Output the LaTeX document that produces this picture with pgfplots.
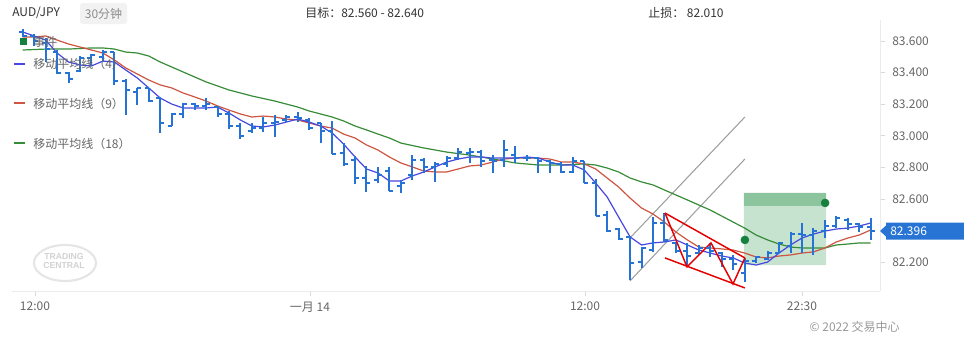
\documentclass[border=0pt]{standalone}
\usepackage{pgfplots}
\pgfplotsset{compat=1.18}
\usepackage{pgfplotstable}
\usepackage{fontspec}
\setmainfont{Noto Sans CJK SC}
\newfontfamily\wmfont{Liberation Sans}

\definecolor{barblue}{RGB}{38,115,214}
\definecolor{ma4}{RGB}{72,72,225}
\definecolor{ma9}{RGB}{205,85,65}
\definecolor{ma18}{RGB}{55,140,55}
\definecolor{boxlight}{RGB}{198,227,208}
\definecolor{boxdark}{RGB}{140,196,157}
\definecolor{dotgreen}{RGB}{22,128,62}
\definecolor{txtgray}{RGB}{102,102,102}
\definecolor{txtdark}{RGB}{51,51,51}
\definecolor{pricebox}{RGB}{40,116,212}

\pgfdeclareplotmark{otick}{\pgfpathmoveto{\pgfqpoint{-3pt}{0pt}}\pgfpathlineto{\pgfqpoint{0pt}{0pt}}\pgfusepathqstroke}
\pgfdeclareplotmark{ctick}{\pgfpathmoveto{\pgfqpoint{0pt}{0pt}}\pgfpathlineto{\pgfqpoint{3pt}{0pt}}\pgfusepathqstroke}

% x o h l c
\pgfplotstableread{
x o h l c
0 83.66 83.676 83.625 83.63
1 83.63 83.645 83.57 83.60
2 83.59 83.62 83.467 83.55
3 83.53 83.543 83.391 83.40
4 83.40 83.404 83.334 83.36
5 83.41 83.505 83.404 83.49
6 83.49 83.518 83.442 83.51
7 83.50 83.543 83.467 83.53
8 83.53 83.530 83.322 83.35
9 83.35 83.36 83.132 83.29
10 83.28 83.303 83.195 83.30
11 83.30 83.303 83.214 83.22
12 83.24 83.246 83.018 83.08
13 83.06 83.144 83.062 83.14
14 83.14 83.208 83.113 83.20
15 83.20 83.208 83.163 83.19
16 83.19 83.239 83.163 83.20
17 83.18 83.189 83.119 83.14
18 83.14 83.157 83.043 83.06
19 83.06 83.081 82.980 83.00
20 83.03 83.081 83.018 83.05
21 83.05 83.119 83.024 83.08
22 83.08 83.132 82.992 83.09
23 83.10 83.132 83.087 83.12
24 83.12 83.151 83.087 83.11
25 83.10 83.113 83.037 83.05
26 83.08 83.081 82.954 83.03
27 83.03 83.094 82.885 82.885
28 82.89 82.954 82.810 82.82
29 82.85 82.872 82.695 82.73
30 82.73 82.809 82.644 82.70
31 82.72 82.803 82.700 82.75
32 82.78 82.803 82.650 82.65
33 82.68 82.720 82.638 82.70
34 82.75 82.878 82.720 82.85
35 82.85 82.859 82.765 82.80
36 82.80 82.834 82.708 82.82
37 82.82 82.872 82.803 82.86
38 82.86 82.923 82.847 82.90
39 82.89 82.923 82.828 82.90
40 82.90 82.910 82.803 82.84
41 82.85 82.878 82.765 82.84
42 82.85 82.973 82.803 82.91
43 82.88 82.935 82.828 82.86
44 82.86 82.878 82.841 82.86
45 82.86 82.866 82.765 82.84
46 82.84 82.847 82.765 82.83
47 82.82 82.834 82.765 82.77
48 82.77 82.866 82.765 82.84
49 82.84 82.840 82.700 82.70
50 82.70 82.727 82.490 82.49
51 82.50 82.524 82.391 82.40
52 82.41 82.416 82.341 82.35
53 82.36 82.366 82.087 82.195
54 82.20 82.296 82.163 82.29
55 82.28 82.486 82.265 82.45
56 82.45 82.511 82.328 82.34
57 82.32 82.328 82.258 82.27
58 82.27 82.322 82.182 82.24
59 82.26 82.309 82.246 82.29
60 82.29 82.322 82.233 82.27
61 82.26 82.265 82.170 82.22
62 82.22 82.246 82.151 82.19
63 82.13 82.227 82.075 82.21
64 82.21 82.239 82.195 82.23
65 82.22 82.271 82.214 82.26
66 82.26 82.328 82.258 82.32
67 82.30 82.391 82.258 82.38
68 82.38 82.448 82.258 82.37
69 82.37 82.416 82.246 82.40
70 82.40 82.467 82.353 82.43
71 82.43 82.492 82.416 82.48
72 82.47 82.480 82.404 82.44
73 82.44 82.448 82.391 82.42
74 82.42 82.480 82.341 82.396
}\ohlc

% moving averages: x ma4 ma9
\pgfplotstableread{
x m4 m9
0 83.657 83.625
1 83.632 83.625
2 83.606 83.632
3 83.524 83.606
4 83.467 83.581
5 83.448 83.562
6 83.442 83.543
7 83.473 83.524
8 83.467 83.480
9 83.416 83.429
10 83.366 83.391
11 83.303 83.353
12 83.239 83.322
13 83.201 83.303
14 83.176 83.271
15 83.176 83.246
16 83.176 83.220
17 83.182 83.189
18 83.144 83.163
19 83.100 83.138
20 83.062 83.119
21 83.056 83.125
22 83.068 83.119
23 83.087 83.106
24 83.106 83.100
25 83.087 83.081
26 83.062 83.062
27 83.018 83.049
28 82.948 83.011
29 82.866 82.986
30 82.790 82.942
31 82.765 82.910
32 82.714 82.866
33 82.714 82.828
34 82.746 82.803
35 82.771 82.777
36 82.803 82.771
37 82.834 82.771
38 82.853 82.790
39 82.866 82.809
40 82.866 82.815
41 82.859 82.834
42 82.859 82.853
43 82.859 82.859
44 82.866 82.859
45 82.859 82.859
46 82.834 82.853
47 82.815 82.834
48 82.815 82.834
49 82.784 82.822
50 82.701 82.790
51 82.613 82.733
52 82.486 82.676
53 82.360 82.606
54 82.309 82.543
55 82.322 82.505
56 82.328 82.454
57 82.341 82.391
58 82.309 82.341
59 82.277 82.296
60 82.258 82.290
61 82.239 82.284
62 82.227 82.277
63 82.195 82.258
64 82.182 82.233
65 82.201 82.227
66 82.258 82.239
67 82.309 82.246
68 82.353 82.258
69 82.378 82.265
70 82.397 82.290
71 82.410 82.328
72 82.416 82.353
73 82.429 82.372
74 82.448 82.404
}\mas

\pgfplotstableread{
x m18
0 83.543
2 83.549
4 83.549
6 83.556
7 83.556
8 83.549
9 83.530
10 83.524
11 83.505
12 83.467
14 83.404
16 83.341
18 83.290
20 83.252
22 83.220
24 83.182
25 83.157
26 83.138
27 83.119
28 83.094
29 83.062
30 83.037
31 83.011
32 82.986
33 82.954
35 82.923
37 82.897
39 82.878
40 82.866
42 82.841
43 82.828
45 82.815
47 82.815
49 82.822
50 82.815
51 82.796
52 82.771
53 82.733
54 82.708
55 82.689
56 82.657
58 82.594
60 82.530
62 82.454
63 82.416
64 82.372
65 82.341
66 82.315
67 82.296
68 82.290
69 82.290
70 82.290
71 82.309
72 82.315
73 82.322
74 82.322
}\maslow

\begin{document}
\begin{tikzpicture}
\fontsize{9pt}{11pt}\selectfont
\path[use as bounding box] (0,0) rectangle (723pt,252.75pt);
\begin{axis}[
  at={(9pt,34.5pt)}, anchor=south west,
  scale only axis, width=651pt, height=203.25pt,
  xmin=-0.934, xmax=74.81, ymin=82.0177, ymax=83.7329,
  axis x line*=bottom, axis y line*=right,
  axis line style={draw=black!8},
  tick align=outside, major tick length=4pt,
  tick style={draw=black!15, line width=0.6pt},
  xtick={1.07,25.07,49.07,68.0},
  xticklabels={12:00,一月 14,12:00,22:30},
  ytick={82.2,82.6,82.8,83.0,83.2,83.4,83.6},
  scaled y ticks=false,
  /pgf/number format/assume math mode=true,
  yticklabel style={/pgf/number format/fixed, /pgf/number format/fixed zerofill, /pgf/number format/precision=3},
  ticklabel style={font=\fontsize{9pt}{11pt}\selectfont, text=txtgray},
  yticklabel style={xshift=2pt},
  xticklabel style={yshift=-1pt},
]
% target box
\addplot[fill=boxlight, draw=none, forget plot] coordinates {(62.94,82.182) (70.10,82.182) (70.10,82.556) (62.94,82.556) (62.94,82.182)};
\addplot[fill=boxdark, draw=none, forget plot] coordinates {(62.94,82.556) (70.10,82.556) (70.10,82.638) (62.94,82.638) (62.94,82.556)};
% channel lines
\addplot[gray!75, line width=0.8pt] coordinates {(52.99,82.353) (63.02,83.119)};
\addplot[gray!75, line width=0.8pt] coordinates {(52.99,82.081) (63.02,82.853)};
% moving averages
\addplot[ma18, line width=0.9pt] table[x=x, y=m18] {\maslow};
\addplot[ma9, line width=0.9pt] table[x=x, y=m9] {\mas};
\addplot[ma4, line width=0.9pt] table[x=x, y=m4] {\mas};
% OHLC bars
\addplot[draw=none, mark=none, error bars/.cd, y dir=plus, y explicit, error mark=none,
  error bar style={draw=barblue, line width=1.5pt}]
  table[x=x, y=l, y error expr=\thisrow{h}-\thisrow{l}] {\ohlc};
\addplot[only marks, mark=otick, barblue, line width=1.5pt] table[x=x, y=o] {\ohlc};
\addplot[only marks, mark=ctick, barblue, line width=1.5pt] table[x=x, y=c] {\ohlc};
% pattern lines
\addplot[red!90!black, line width=1.1pt] coordinates {(56.05,82.511) (63.02,82.227)};
\addplot[red!90!black, line width=1.1pt] coordinates {(56.05,82.227) (63.02,82.037)};
\addplot[red!90!black, line width=1.1pt] coordinates {(56.05,82.511) (57.97,82.170) (60.06,82.322) (61.98,82.062) (63.02,82.227)};
% signal dots
\addplot[only marks, mark=*, mark size=3pt, dotgreen] coordinates {(63.02,82.341) (70.02,82.575)};
\end{axis}

\begin{scope}[x=0.75pt, y=-0.75pt, yshift=252.75pt]
% header
\node[anchor=west, text=txtdark, inner sep=0] at (12,13) {AUD/JPY};
\fill[black!5, rounded corners=2pt] (80,3) rectangle (127,24);
\node[text=black!45, inner sep=0] at (103.5,13.5) {30分钟};
\node[anchor=west, text=txtdark, inner sep=0] at (305,13) {目标：82.560 - 82.640};
\node[anchor=west, text=txtdark, inner sep=0] at (648,13) {止损： 82.010};
% legend
\fill[dotgreen] (19.5,37.5) rectangle (26.5,44.5);
\node[anchor=west, text=txtgray, inner sep=0] at (33,42) {事件};
\draw[ma4, line width=1.5pt] (14,63.5) -- (25,63.5);
\node[anchor=west, text=txtgray, inner sep=0] at (33,64) {移动平均线（4）};
\draw[ma9, line width=1.5pt] (14,103) -- (25,103);
\node[anchor=west, text=txtgray, inner sep=0] at (33,103.5) {移动平均线（9）};
\draw[ma18, line width=1.5pt] (14,143) -- (25,143);
\node[anchor=west, text=txtgray, inner sep=0] at (33,143.5) {移动平均线（18）};
% watermark
\draw[black!10, line width=1.6pt] (65,263) ellipse [x radius=31, y radius=18];
\node[text=black!18, inner sep=0, align=center, font=\wmfont\bfseries\fontsize{6.5pt}{6.5pt}\selectfont] at (64,261) {TRADING\\CENTRAL};
% price label
\fill[pricebox] (880,231) -- (886,225.5) -- (886,222.5) -- (964,222.5) -- (964,239.5) -- (886,239.5) -- (886,236.5) -- cycle;
\node[anchor=west, text=white, inner sep=0] at (890,231) {82.396};
% copyright
\node[anchor=east, text=black!40, inner sep=0] at (900,327) {© 2022 交易中心};
\end{scope}
\end{tikzpicture}
\end{document}
